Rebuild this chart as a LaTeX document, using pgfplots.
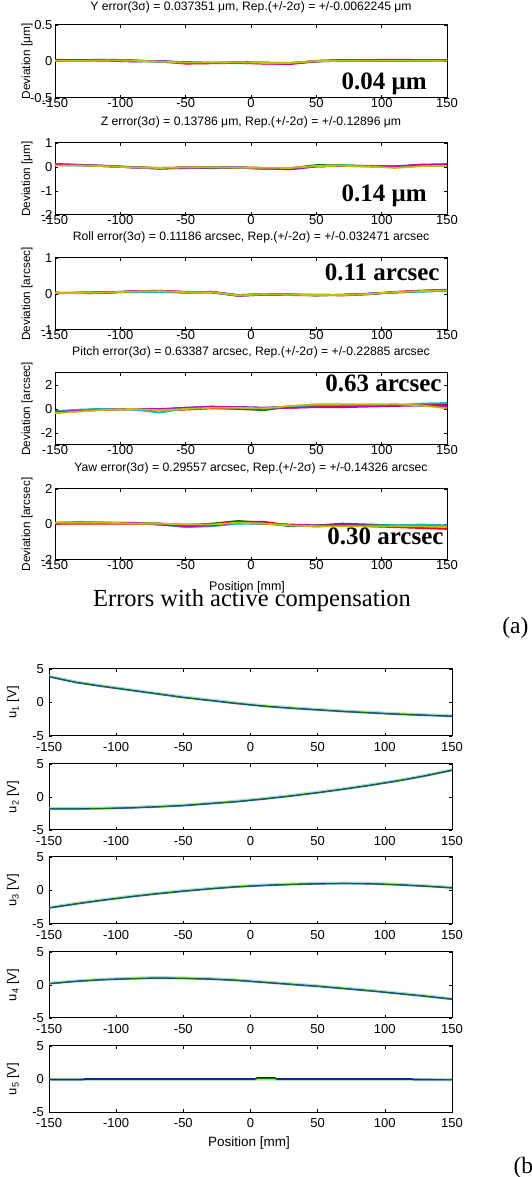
\documentclass[border=0pt]{standalone}
\usepackage{pgfplots}
\pgfplotsset{compat=1.18}
\usepackage{pgfplotstable}
\usepackage{fontspec}
\setmainfont{Liberation Sans}
\newfontfamily\timesfont{Liberation Serif}

\definecolor{mb}{rgb}{0,0,1}
\definecolor{mg}{rgb}{0,0.5,0}
\definecolor{mr}{rgb}{1,0,0}
\definecolor{mc}{rgb}{0,0.75,0.75}
\definecolor{mm}{rgb}{0.75,0,0.75}
\definecolor{my}{rgb}{0.75,0.75,0}

% ---------- Panel (a) data ----------
\pgfplotstableread{
x b g r c m y
-150 0.025 0.015 0.010 0.010 0.015 0.010
-130 0.015 0.020 0.020 0.010 0.020 0.010
-110 0.010 0.025 0.020 0.015 0.020 0.015
-90 0.000 0.015 0.010 0.010 0.010 0.010
-70 0.005 0.000 0.000 -0.005 0.005 0.000
-50 -0.010 -0.010 -0.030 -0.020 -0.020 -0.015
-30 -0.020 -0.020 -0.025 -0.015 -0.020 -0.015
-10 -0.010 -0.015 -0.020 -0.025 -0.015 -0.010
10 -0.015 -0.020 -0.030 -0.020 -0.025 -0.020
30 -0.020 -0.025 -0.030 -0.020 -0.035 -0.020
50 0.000 0.010 0.005 0.005 0.000 0.005
70 0.010 0.020 0.015 0.010 0.020 0.010
90 0.010 0.020 0.015 0.020 0.020 0.010
110 0.010 0.015 0.020 0.020 0.025 0.010
130 0.010 0.020 0.020 0.015 0.020 0.010
150 0.015 0.020 0.015 0.020 0.020 0.010
}\tabY
\pgfplotstableread{
x b g r c m y
-150 0.08 0.09 0.13 0.10 0.10 0.06
-130 0.07 0.08 0.09 0.07 0.08 0.06
-110 0.03 0.04 0.03 0.04 0.05 0.03
-90 -0.02 0.00 -0.02 -0.01 -0.02 -0.02
-70 -0.06 -0.04 -0.05 -0.08 -0.06 -0.04
-50 -0.02 -0.02 -0.03 -0.04 -0.05 -0.02
-30 -0.02 -0.05 -0.01 -0.02 -0.02 -0.01
-10 -0.03 -0.03 -0.02 -0.01 -0.02 -0.03
10 -0.07 -0.04 -0.04 -0.10 -0.05 -0.03
30 -0.08 -0.05 -0.06 -0.06 -0.10 -0.04
50 0.03 0.08 0.04 0.03 0.02 0.04
70 0.05 0.07 0.05 0.06 0.04 0.05
90 0.04 0.04 0.03 0.05 0.03 0.02
110 0.00 0.02 0.00 0.01 0.03 -0.04
130 0.06 0.05 0.05 0.07 0.10 0.03
150 0.09 0.07 0.08 0.10 0.12 0.04
}\tabZ
\pgfplotstableread{
x b g r c m y
-150 0.02 0.03 0.04 0.03 0.02 0.03
-130 0.04 0.03 0.02 0.04 0.03 0.03
-110 0.05 0.04 0.03 0.05 0.04 0.04
-90 0.06 0.08 0.07 0.05 0.08 0.07
-70 0.08 0.07 0.09 0.06 0.09 0.08
-50 0.04 0.05 0.06 0.03 0.05 0.05
-30 0.06 0.04 0.05 0.05 0.06 0.05
-10 -0.03 -0.05 -0.04 -0.03 -0.05 -0.04
10 0.00 -0.02 -0.01 0.00 -0.02 -0.01
30 -0.02 -0.03 -0.01 -0.03 -0.02 -0.02
50 -0.02 -0.04 -0.03 -0.02 -0.04 -0.03
70 -0.03 -0.02 -0.04 -0.03 -0.02 -0.03
90 0.01 0.00 -0.01 0.01 0.00 0.00
110 0.05 0.04 0.06 0.04 0.05 0.05
130 0.07 0.08 0.09 0.07 0.09 0.08
150 0.09 0.10 0.11 0.08 0.12 0.10
}\tabRoll
\pgfplotstableread{
x b g r c m y
-150 -0.20 -0.25 -0.30 -0.20 -0.25 -0.35
-130 -0.10 -0.10 -0.15 -0.05 -0.15 -0.20
-110 0.00 0.00 -0.05 0.00 -0.05 -0.05
-90 0.00 0.00 -0.05 -0.05 0.00 0.00
-70 -0.05 -0.05 -0.10 -0.30 0.00 -0.10
-50 0.10 0.00 -0.05 0.05 0.10 0.00
-30 0.15 0.10 0.05 0.20 0.20 0.10
-10 0.15 0.00 0.05 0.10 0.15 0.10
10 0.10 -0.10 0.05 0.05 0.10 0.05
30 0.20 0.20 0.10 0.15 0.10 0.25
50 0.30 0.35 0.20 0.30 0.15 0.40
70 0.30 0.35 0.25 0.35 0.15 0.40
90 0.30 0.30 0.30 0.35 0.20 0.40
110 0.35 0.35 0.35 0.30 0.25 0.40
130 0.30 0.30 0.35 0.45 0.30 0.30
150 0.40 0.20 0.30 0.50 0.25 0.05
}\tabPitch
\pgfplotstableread{
x b g r c m y
-150 0.10 0.05 0.05 0.10 0.05 0.10
-130 0.10 0.10 0.05 0.15 0.10 0.10
-110 0.10 0.10 0.05 0.10 0.10 0.10
-90 0.05 0.05 0.05 0.10 0.10 0.05
-70 0.05 0.05 0.00 0.00 0.00 0.05
-50 -0.05 -0.05 0.00 -0.15 -0.10 0.00
-30 -0.05 0.05 0.00 -0.10 -0.05 0.00
-10 0.10 0.20 0.15 0.05 0.10 0.10
10 0.05 0.10 0.15 0.05 0.05 0.05
30 -0.05 -0.10 -0.05 -0.05 0.00 -0.05
50 -0.10 -0.05 -0.10 -0.10 -0.05 -0.10
70 -0.05 0.05 -0.05 -0.10 -0.05 -0.10
90 -0.10 0.00 -0.10 -0.05 -0.05 -0.10
110 -0.10 -0.05 -0.15 -0.05 -0.10 -0.10
130 -0.10 -0.10 -0.20 0.00 -0.10 -0.10
150 -0.10 -0.10 -0.25 -0.05 -0.15 -0.15
}\tabYaw

% ---------- Panel (b) data ----------
\pgfplotstableread{
x u1 u2 u3 u4
-150 3.85 -1.80 -2.60 0.20
-130 3.00 -1.80 -2.00 0.55
-110 2.40 -1.75 -1.45 0.80
-90 1.85 -1.65 -0.95 0.95
-70 1.30 -1.50 -0.50 1.05
-50 0.75 -1.30 -0.10 1.00
-30 0.30 -1.00 0.25 0.90
-10 -0.15 -0.70 0.55 0.70
10 -0.55 -0.30 0.75 0.40
30 -0.85 0.15 0.90 0.10
50 -1.10 0.65 1.00 -0.20
70 -1.35 1.20 1.05 -0.55
90 -1.55 1.80 1.00 -0.90
110 -1.75 2.45 0.85 -1.30
130 -1.90 3.20 0.65 -1.70
150 -2.05 4.05 0.40 -2.15
}\tabU
\pgfplotstableread{
x b g
-150 -0.10 0.00
-125 -0.10 0.00
-123 0.00 0.00
3 0.00 0.00
5 0.15 0.05
18 0.15 0.05
20 0.00 0.00
120 0.00 0.00
122 -0.10 0.00
145 -0.10 -0.05
150 -0.10 -0.05
}\tabUfive

\tikzset{bignum/.style={anchor=base east, font=\timesfont\bfseries\fontsize{25}{25}\selectfont}}

\pgfplotsset{
  base/.style={
    scale only axis,
    xmin=-150, xmax=150,
    xtick={-150,-100,-50,0,50,100,150},
    tick align=inside,
    major tick length=3pt,
    axis line style={line width=1pt},
    every tick/.style={black, line width=0.6pt},
    /pgf/number format/assume math mode=true,
    clip mode=individual,
    ticklabel style={font=\fontsize{13}{13}\selectfont},
  },
  erra/.style={
    base,
    width=392pt,
    xticklabel style={yshift=3.5pt},
    yticklabel style={xshift=1pt},
    title style={font=\fontsize{12.2}{13}\selectfont, at={(0.5,1)}, anchor=center, yshift=15pt},
    every axis y label/.style={at={(axis description cs:-0.0714,0.5)}, rotate=90, anchor=center, font=\fontsize{11.8}{12}\selectfont},
    every axis x label/.style={at={(axis description cs:0.49,-0.38)}, anchor=center, font=\fontsize{12.5}{13}\selectfont},
    every axis plot/.append style={line width=1.8pt},
  },
  errb/.style={
    base,
    width=403pt,
    ytick={-5,0,5},
    ymin=-5, ymax=5,
    xticklabel style={yshift=-3.3pt},
    yticklabel style={xshift=-1.5pt},
    every axis y label/.style={at={(axis description cs:-0.0893,0.5)}, rotate=90, anchor=center, font=\fontsize{13}{13}\selectfont},
    every axis x label/.style={at={(axis description cs:0.496,-0.47)}, anchor=center, font=\fontsize{13.5}{14}\selectfont},
  },
}

\newcommand{\sixruns}[1]{%
  \addplot[mb] table[x=x,y=b]{#1};
  \addplot[mg] table[x=x,y=g]{#1};
  \addplot[mr] table[x=x,y=r]{#1};
  \addplot[mc] table[x=x,y=c]{#1};
  \addplot[mm] table[x=x,y=m]{#1};
  \addplot[my] table[x=x,y=y]{#1};
}
\newcommand{\ucurve}[1]{%
  \addplot[blue!45, line width=2.4pt, opacity=0.6, forget plot] table[x=x,y=#1]{\tabU};
  \addplot[green!55!black!45, line width=2.4pt, opacity=0.6, forget plot, yshift=0.8pt] table[x=x,y=#1]{\tabU};
  \addplot[mb, line width=1.1pt] table[x=x,y=#1]{\tabU};
  \addplot[mg, line width=0.9pt] table[x=x,y=#1]{\tabU};
}

\begin{document}
\begin{tikzpicture}
\useasboundingbox (0,0) rectangle (532pt,1177pt);
\clip (0,0) rectangle (532pt,1177pt);

% ===== (a) =====
\begin{axis}[erra, at={(55pt,1079pt)}, anchor=south west, height=73pt,
  ymin=-0.5, ymax=0.5, ytick={-0.5,0,0.5},
  title style={yshift=-3pt},
  title={Y error(3σ) = 0.037351 μm, Rep.(+/-2σ) = +/-0.0062245 μm},
  ylabel={Deviation [μm]}]
\sixruns{\tabY}
\node[bignum] at (rel axis cs:0.957,0.11) {0.04 μm};
\end{axis}

\begin{axis}[erra, at={(55pt,962pt)}, anchor=south west, height=72pt,
  ymin=-2, ymax=1, ytick={-2,-1,0,1},
  title={Z error(3σ) = 0.13786 μm, Rep.(+/-2σ) = +/-0.12896 μm},
  ylabel={Deviation [μm]}]
\sixruns{\tabZ}
\node[bignum] at (rel axis cs:0.957,0.185) {0.14 μm};
\end{axis}

\begin{axis}[erra, at={(55pt,847pt)}, anchor=south west, height=72pt,
  ymin=-1, ymax=1, ytick={-1,0,1},
  title={Roll error(3σ) = 0.11186 arcsec, Rep.(+/-2σ) = +/-0.032471 arcsec},
  ylabel={Deviation [arcsec]}]
\sixruns{\tabRoll}
\node[bignum] at (rel axis cs:0.99,0.69) {0.11 arcsec};
\end{axis}

\begin{axis}[erra, at={(55pt,732pt)}, anchor=south west, height=72pt,
  ymin=-3, ymax=3, ytick={-2,0,2},
  title={Pitch error(3σ) = 0.63387 arcsec, Rep.(+/-2σ) = +/-0.22885 arcsec},
  ylabel={Deviation [arcsec]}]
\sixruns{\tabPitch}
\node[bignum] at (rel axis cs:0.995,0.74) {0.63 arcsec};
\end{axis}

\begin{axis}[erra, at={(55pt,617pt)}, anchor=south west, height=71pt,
  ymin=-2, ymax=2, ytick={-2,0,2},
  title={Yaw error(3σ) = 0.29557 arcsec, Rep.(+/-2σ) = +/-0.14326 arcsec},
  ylabel={Deviation [arcsec]}, xlabel={Position [mm]}]
\sixruns{\tabYaw}
\node[bignum] at (rel axis cs:1.0,0.225) {0.30 arcsec};
\end{axis}

\node[anchor=base, font=\timesfont\fontsize{24.5}{25}\selectfont] at (252pt,570pt) {Errors with active compensation};
\node[anchor=base east, font=\timesfont\fontsize{23.5}{24}\selectfont] at (532pt,543pt) {(a)};

% ===== (b) =====
\begin{axis}[errb, at={(49pt,441pt)}, anchor=south west, height=67pt,
  ylabel={u\textsubscript{1} [V]}]
\ucurve{u1}
\end{axis}
\begin{axis}[errb, at={(49pt,347pt)}, anchor=south west, height=66pt,
  ylabel={u\textsubscript{2} [V]}]
\ucurve{u2}
\end{axis}
\begin{axis}[errb, at={(49pt,253pt)}, anchor=south west, height=67pt,
  ylabel={u\textsubscript{3} [V]}]
\ucurve{u3}
\end{axis}
\begin{axis}[errb, at={(49pt,159pt)}, anchor=south west, height=66pt,
  ylabel={u\textsubscript{4} [V]}]
\ucurve{u4}
\end{axis}
\begin{axis}[errb, at={(49pt,65pt)}, anchor=south west, height=66pt,
  ylabel={u\textsubscript{5} [V]}, xlabel={Position [mm]}]
\addplot[green!55!black!45, line width=2.4pt, opacity=0.6, yshift=-0.8pt] table[x=x,y=g]{\tabUfive};
\addplot[mb, line width=1.6pt] table[x=x,y=b]{\tabUfive};
\addplot[mg, line width=0.9pt] table[x=x,y=g]{\tabUfive};
\end{axis}

\node[anchor=base west, font=\timesfont\fontsize{23.5}{24}\selectfont] at (510pt,3pt) {(b)};
\end{tikzpicture}
\end{document}
